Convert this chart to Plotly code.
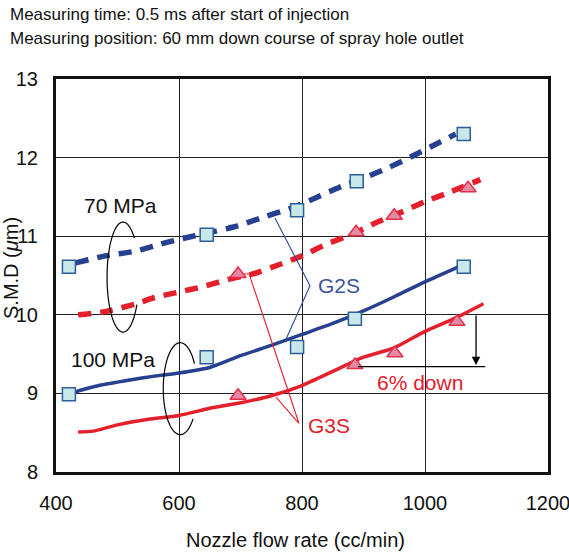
import numpy as np
import plotly.graph_objects as go

# ---------------- data ----------------
x_ticks = [400, 600, 800, 1000, 1200]
y_ticks = [8, 9, 10, 11, 12, 13]

# G2S, 70 MPa (dashed blue line + squares)
g2s70_line_x = [432, 480, 530, 570, 600, 640, 690, 740, 780, 820, 860, 900, 940, 980, 1020, 1050]
g2s70_line_y = [10.66, 10.75, 10.81, 10.90, 10.96, 11.03, 11.12, 11.25, 11.35, 11.48, 11.62, 11.74, 11.87, 12.02, 12.18, 12.30]
g2s70_pts_x = [421, 645, 792, 889, 1063]
g2s70_pts_y = [10.61, 11.02, 11.33, 11.70, 12.30]

# G3S, 70 MPa (dashed red line + triangles)
g3s70_line_x = [436, 480, 530, 560, 600, 640, 680, 720, 760, 800, 840, 880, 920, 960, 1000, 1040, 1090]
g3s70_line_y = [10.00, 10.04, 10.14, 10.22, 10.29, 10.36, 10.45, 10.52, 10.63, 10.75, 10.90, 11.02, 11.17, 11.30, 11.44, 11.56, 11.72]
g3s70_pts_x = [696, 888, 950, 1070]
g3s70_pts_y = [10.52, 11.05, 11.26, 11.61]

# G2S, 100 MPa (solid blue line + squares)
g2s100_line_x = [421, 440, 470, 520, 560, 600, 650, 700, 750, 800, 850, 900, 950, 1000, 1060]
g2s100_line_y = [8.99, 9.04, 9.10, 9.17, 9.22, 9.26, 9.33, 9.48, 9.61, 9.75, 9.89, 10.05, 10.23, 10.42, 10.63]
g2s100_pts_x = [421, 645, 792, 886, 1063]
g2s100_pts_y = [8.99, 9.46, 9.59, 9.95, 10.61]

# G3S, 100 MPa (solid red line + triangles)
g3s100_line_x = [436, 460, 500, 550, 600, 650, 700, 750, 800, 850, 900, 950, 1000, 1050, 1095]
g3s100_line_y = [8.51, 8.52, 8.60, 8.67, 8.72, 8.81, 8.88, 8.97, 9.10, 9.28, 9.46, 9.58, 9.79, 9.96, 10.14]
g3s100_pts_x = [696, 886, 951, 1052]
g3s100_pts_y = [8.97, 9.36, 9.51, 9.91]

BLUE = "#27408F"
RED = "#E3202C"
SQ_FILL = "#C8E7E9"
SQ_LINE = "#2C5E98"
TR_FILL = "#E58AA4"
TR_LINE = "#E2304C"
FONT = "Liberation Sans, Arial, sans-serif"

fig = go.Figure()

def line(x, y, color, dash, width):
    fig.add_trace(go.Scatter(x=x, y=y, mode="lines",
                             line=dict(color=color, width=width, dash=dash, shape="spline", smoothing=0.6),
                             hoverinfo="skip", showlegend=False))

def pts(x, y, symbol, size, fill, edge):
    fig.add_trace(go.Scatter(x=x, y=y, mode="markers",
                             marker=dict(symbol=symbol, size=size, color=fill,
                                         line=dict(color=edge, width=1.5)),
                             showlegend=False))

line(g2s70_line_x, g2s70_line_y, BLUE, "13px,9px", 5.5)
line(g3s70_line_x, g3s70_line_y, RED, "13px,9px", 5.5)
line(g2s100_line_x, g2s100_line_y, BLUE, "solid", 3.5)
line(g3s100_line_x, g3s100_line_y, RED, "solid", 3.5)
pts(g2s70_pts_x, g2s70_pts_y, "square", 13, SQ_FILL, SQ_LINE)
pts(g2s100_pts_x, g2s100_pts_y, "square", 13, SQ_FILL, SQ_LINE)
pts(g3s70_pts_x, g3s70_pts_y, "triangle-up", 14, TR_FILL, TR_LINE)
pts(g3s100_pts_x, g3s100_pts_y, "triangle-up", 14, TR_FILL, TR_LINE)

# open ellipses (grouping brackets)
def open_ellipse(cx, cy, rx, ry, a0, a1):
    t = np.radians(np.linspace(a0, a1, 80))
    xs = cx + rx * np.cos(t)
    ys = cy + ry * np.sin(t)
    return "M " + " L ".join(f"{a:.3f},{b:.4f}" for a, b in zip(xs, ys))

shapes = [
    dict(type="path", xref="x", yref="y", path=open_ellipse(509, 10.48, 26, 0.70, 45, 330),
         line=dict(color="black", width=1.2)),
    dict(type="path", xref="x", yref="y", path=open_ellipse(602, 9.06, 27.6, 0.585, 33, 319),
         line=dict(color="black", width=1.2)),
    # G2S leader
    dict(type="path", xref="x", yref="y", path="M 756,11.23 L 813,10.37 L 774,9.69",
         line=dict(color="#2B4A9A", width=1.1)),
    # G3S leader
    dict(type="path", xref="x", yref="y", path="M 704,10.52 L 714,10.52 L 795,8.62 L 758,8.95",
         line=dict(color=RED, width=1.1)),
    # 6% down reference line
    dict(type="line", xref="x", yref="y", x0=891, x1=1098, y0=9.34, y1=9.34,
         line=dict(color="black", width=1.2)),
]

def px_x(p):
    return (p - 56) / 492.0

def px_y(p):
    return (472 - p) / 393.0

annotations = [
    dict(text="Measuring time: 0.5 ms after start of injection", xref="paper", yref="paper",
         x=px_x(8), y=px_y(14.5), xanchor="left", yanchor="middle", showarrow=False,
         font=dict(size=17, color="#111", family=FONT)),
    dict(text="Measuring position: 60 mm down course of spray hole outlet", xref="paper", yref="paper",
         x=px_x(8), y=px_y(38), xanchor="left", yanchor="middle", showarrow=False,
         font=dict(size=17, color="#111", family=FONT)),
    dict(text="S.M.D (<i>μ</i>m)", xref="paper", yref="paper", x=px_x(11), y=px_y(268),
         textangle=-90, showarrow=False, xanchor="center", yanchor="middle",
         font=dict(size=20, color="#111", family=FONT)),
    dict(text="Nozzle flow rate (cc/min)", xref="paper", yref="paper", x=px_x(295), y=px_y(540),
         showarrow=False, xanchor="center", yanchor="middle",
         font=dict(size=20, color="#111", family=FONT)),
    dict(text="70 MPa", xref="x", yref="y", x=400 + (120 - 56) / 0.615, y=13 - (205 - 79) / 78.6,
         showarrow=False, font=dict(size=21, color="#111", family=FONT)),
    dict(text="100 MPa", xref="x", yref="y", x=400 + (113 - 56) / 0.615, y=13 - (359 - 79) / 78.6,
         showarrow=False, font=dict(size=21, color="#111", family=FONT)),
    dict(text="G2S", xref="x", yref="y", x=400 + (339 - 56) / 0.615, y=13 - (285 - 79) / 78.6,
         showarrow=False, font=dict(size=21, color="#3A55A0", family=FONT)),
    dict(text="G3S", xref="x", yref="y", x=400 + (329 - 56) / 0.615, y=13 - (425 - 79) / 78.6,
         showarrow=False, font=dict(size=21, color=RED, family=FONT)),
    dict(text="6% down", xref="x", yref="y", x=400 + (420 - 56) / 0.615, y=13 - (382 - 79) / 78.6,
         showarrow=False, font=dict(size=21, color=RED, family=FONT)),
    dict(text="", xref="x", yref="y", x=1083, y=9.36, axref="x", ayref="y", ax=1083, ay=10.01,
         showarrow=True, arrowhead=2, arrowsize=1.3, arrowwidth=1.3, arrowcolor="black"),
]

fig.update_layout(
    width=569, height=553,
    margin=dict(l=56, r=21, t=79, b=81, autoexpand=False),
    paper_bgcolor="white", plot_bgcolor="white",
    shapes=shapes, annotations=annotations,
    font=dict(family=FONT, color="#111"),
    xaxis=dict(range=[400, 1200], tickvals=x_ticks, ticktext=[str(v) for v in x_ticks],
               showgrid=True, gridcolor="#222", gridwidth=1,
               showline=True, linecolor="#111", linewidth=3, mirror=True,
               ticks="", ticklabelstandoff=11, ticklabeloverflow="allow",
               tickfont=dict(size=20, color="#111"), automargin=False,
               zeroline=False, fixedrange=True),
    yaxis=dict(range=[8, 13], tickvals=y_ticks, ticktext=[str(v) for v in y_ticks],
               showgrid=True, gridcolor="#222", gridwidth=1,
               showline=True, linecolor="#111", linewidth=3, mirror=True,
               ticks="", ticklabelstandoff=11, ticklabeloverflow="allow",
               tickfont=dict(size=20, color="#111"), automargin=False,
               zeroline=False, fixedrange=True),
)

fig.write_html("out.html")
